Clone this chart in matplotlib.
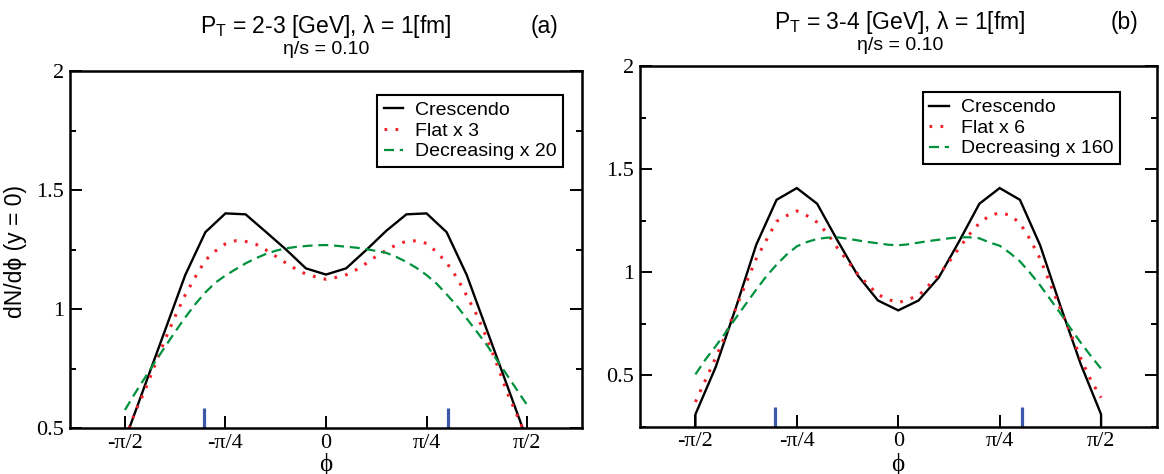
import numpy as np
import matplotlib
matplotlib.use("Agg")
import matplotlib.pyplot as plt
from matplotlib.ticker import MultipleLocator
import matplotlib.transforms as mtransforms

# ---------------- data ----------------
# phi grid index: phi = k * pi/20
k_int = list(range(-10, 11))
k_half = [i / 2 for i in range(-20, 21)]

cres_a = [0.45, 0.682, 0.913, 1.144, 1.324, 1.403, 1.399, 1.326, 1.252, 1.172, 1.146,
          1.172, 1.249, 1.330, 1.399, 1.403, 1.324, 1.144, 0.913, 0.682, 0.45]
flat_a = [0.456, 0.566, 0.661, 0.767, 0.874, 0.971, 1.061, 1.136, 1.206, 1.245, 1.275,
          1.288, 1.285, 1.274, 1.250, 1.223, 1.195, 1.169, 1.148, 1.136, 1.126,
          1.134, 1.145, 1.166, 1.193, 1.223, 1.248, 1.271, 1.286, 1.288, 1.277,
          1.241, 1.196, 1.134, 1.057, 0.976, 0.878, 0.769, 0.653, 0.555, 0.458]
decr_a = [0.577, 0.647, 0.713, 0.780, 0.843, 0.906, 0.966, 1.022, 1.071, 1.112, 1.142,
          1.168, 1.193, 1.214, 1.232, 1.246, 1.256, 1.262, 1.266, 1.269, 1.270,
          1.267, 1.263, 1.259, 1.253, 1.245, 1.237, 1.220, 1.199, 1.174, 1.144,
          1.108, 1.063, 1.015, 0.961, 0.906, 0.850, 0.787, 0.724, 0.661, 0.598]

cres_b_k = [-10] + k_int + [10]
cres_b = [0.0, 0.310, 0.540, 0.830, 1.134, 1.352, 1.409, 1.333, 1.155, 0.985, 0.863, 0.815,
          0.863, 0.975, 1.150, 1.333, 1.409, 1.352, 1.130, 0.835, 0.553, 0.310, 0.0]
flat_b = [0.370, 0.478, 0.585, 0.700, 0.827, 0.949, 1.066, 1.157, 1.247, 1.275, 1.298,
          1.275, 1.243, 1.189, 1.118, 1.055, 0.992, 0.940, 0.892, 0.868, 0.852,
          0.869, 0.886, 0.936, 0.989, 1.050, 1.118, 1.183, 1.239, 1.275, 1.289,
          1.278, 1.239, 1.160, 1.065, 0.942, 0.819, 0.703, 0.582, 0.475, 0.391]
decr_b = [0.504, 0.577, 0.641, 0.709, 0.779, 0.848, 0.916, 0.981, 1.037, 1.086, 1.126,
          1.147, 1.162, 1.168, 1.170, 1.163, 1.155, 1.147, 1.141, 1.134, 1.131,
          1.136, 1.144, 1.152, 1.158, 1.165, 1.170, 1.170, 1.165, 1.145, 1.129,
          1.094, 1.053, 0.997, 0.936, 0.868, 0.800, 0.727, 0.658, 0.593, 0.532]

marker_phi = [-0.955, 0.955]

xtick_vals = [-np.pi / 2, -np.pi / 4, 0, np.pi / 4, np.pi / 2]
xtick_labels = ["-\u03c0/2", "-\u03c0/4", "0", "\u03c0/4", "\u03c0/2"]
ytick_vals = [0.5, 1.0, 1.5, 2.0]
ytick_labels = ["0.5", "1", "1.5", "2"]

labels_a = ["Crescendo", "Flat x 3", "Decreasing x 20"]
labels_b = ["Crescendo", "Flat x 6", "Decreasing x 160"]

# ---------------- style ----------------
plt.rcParams['font.family'] = ['Liberation Sans', 'DejaVu Sans']
SERIF = ['Liberation Serif', 'DejaVu Serif']
RED = '#f0222a'
GREEN = '#00913d'
BLUE = '#3c58a8'

W, H = 1164, 474
fig = plt.figure(figsize=(W / 100, H / 100), dpi=100)


def px_axes(l, r, t, b):
    return [l / W, 1 - b / H, (r - l) / W, (b - t) / H]


ax_a = fig.add_axes(px_axes(70, 582, 71.3, 428.3))
ax_b = fig.add_axes(px_axes(640, 1156.5, 66.4, 426.7))


def phi(ks):
    return [k * np.pi / 20 for k in ks]


def draw(ax, ck, cy, fy, dy, labels, ylim):
    l1, = ax.plot(phi(ck), cy, color='black', lw=1.7, solid_joinstyle='miter')
    l2, = ax.plot(phi(k_half), fy, color=RED, lw=2.2, linestyle=(0, (0.9, 2.7)))
    l3, = ax.plot(phi(k_half), dy, color=GREEN, lw=1.6, linestyle=(0, (4.5, 2.6)))
    trans = mtransforms.blended_transform_factory(ax.transData, ax.transAxes)
    for m in marker_phi:
        ax.plot([m, m], [0, 0.056], color=BLUE, lw=2.3, transform=trans,
                solid_capstyle='butt', clip_on=False)
    ax.set_xlim(-2, 2)
    ax.set_ylim(*ylim)
    ax.set_xticks(xtick_vals)
    ax.set_xticklabels(xtick_labels, family=SERIF, fontsize=16)
    ax.set_yticks(ytick_vals)
    ax.set_yticklabels(ytick_labels, family=SERIF, fontsize=16)
    ax.yaxis.set_minor_locator(MultipleLocator(0.25))
    ax.tick_params(axis='x', which='major', direction='in', length=8.5, width=1.4,
                   pad=4, top=False)
    ax.tick_params(axis='y', which='major', direction='in', length=8.5, width=1.4,
                   pad=4, right=True)
    ax.tick_params(axis='y', which='minor', direction='in', length=4.5, width=1.4,
                   right=True)
    for s in ax.spines.values():
        s.set_linewidth(1.8)
    return [l1, l2, l3]


h_a = draw(ax_a, k_int, cres_a, flat_a, decr_a, labels_a, (0.5, 2.0))
h_b = draw(ax_b, cres_b_k, cres_b, flat_b, decr_b, labels_b, (0.25, 2.0))

for ax, h, lab, anchor in [(ax_a, h_a, labels_a, (0.963, 0.934)),
                           (ax_b, h_b, labels_b, (0.929, 0.929))]:
    leg = ax.legend(h, lab, loc='upper right', bbox_to_anchor=anchor, fontsize=14,
                    frameon=True, fancybox=False, framealpha=1, edgecolor='black',
                    handlelength=1.0, handletextpad=0.6, labelspacing=0.15,
                    borderpad=0.35, borderaxespad=0)
    leg.get_frame().set_linewidth(1.5)


def ftext(x, y, s, **kw):
    fig.text(x / W, 1 - y / H, s, **kw)


ftext(326, 27, r"P$_\mathregular{T}$ = 2-3 [GeV], $\mathregular{\lambda}$ = 1[fm]",
      fontsize=16.5, ha='center', va='center')
ftext(326, 50, "\u03b7/s = 0.10", fontsize=14, ha='center', va='center')
ftext(544, 26, "(a)", fontsize=16.5, ha='center', va='center')

ftext(900, 23, r"P$_\mathregular{T}$ = 3-4 [GeV], $\mathregular{\lambda}$ = 1[fm]",
      fontsize=16.5, ha='center', va='center')
ftext(900, 46, "\u03b7/s = 0.10", fontsize=14, ha='center', va='center')
ftext(1125, 22, "(b)", fontsize=16.5, ha='center', va='center')

ftext(16, 252, "dN/d\u03d5 (y = 0)", fontsize=16.5, ha='center', va='center',
      rotation=90)
ftext(326, 464, "\u03d5", fontsize=18, ha='center', va='center', family=SERIF)
ftext(898, 464, "\u03d5", fontsize=18, ha='center', va='center', family=SERIF)

fig.savefig("out.png", dpi=100)
